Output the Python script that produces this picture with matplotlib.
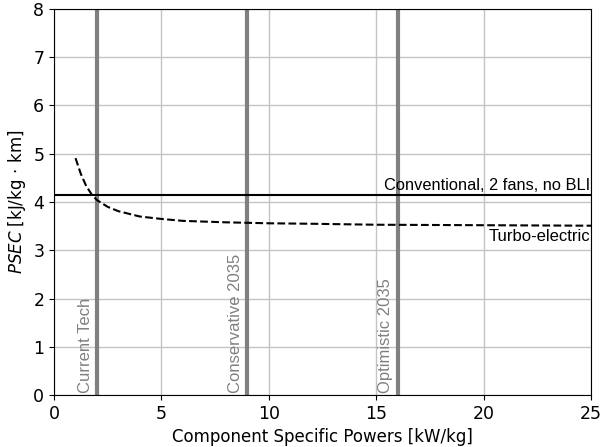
import matplotlib.pyplot as plt

# Turbo-electric PSEC vs component specific power
power = [1.0, 1.25, 1.5, 1.75, 2.0, 2.5, 3.0, 4.0, 5.0, 6.0, 8.0, 10.0, 12.0, 15.0, 20.0, 25.0]
psec_turbo = [4.91, 4.58, 4.33, 4.16, 4.04, 3.90, 3.81, 3.70, 3.65, 3.61, 3.58, 3.56, 3.55, 3.53, 3.52, 3.51]

# Conventional aircraft (constant)
psec_conv = 4.15

# Technology levels
tech_x = [2, 9, 16]
tech_labels = ['Current Tech', 'Conservative 2035', 'Optimistic 2035']

fig = plt.figure(figsize=(6.03, 4.47), dpi=100)
ax = fig.add_axes([0.0896, 0.116, 0.8905, 0.864])

ax.grid(True, color='#c4c4c4', linewidth=1.0, zorder=0)
ax.set_axisbelow(True)

for x, lab in zip(tech_x, tech_labels):
    ax.axvline(x, color='gray', linewidth=3, zorder=2)
    ax.text(x - 0.2, 0.04, lab, rotation=90, ha='right', va='bottom',
            color='gray', fontsize=12, family='Liberation Sans')

ax.axhline(psec_conv, color='black', linewidth=1.5, zorder=3)
ax.plot(power, psec_turbo, color='black', linestyle='--', linewidth=1.5, zorder=3)

ax.text(24.95, psec_conv + 0.04, 'Conventional, 2 fans, no BLI', ha='right', va='bottom',
        fontsize=11.8, family='Liberation Sans')
ax.text(24.95, 3.45, 'Turbo-electric', ha='right', va='top',
        fontsize=12, family='Liberation Sans')

ax.set_xlim(0, 25)
ax.set_ylim(0, 8)
ax.set_xticks([0, 5, 10, 15, 20, 25])
ax.set_yticks(range(0, 9))
ax.tick_params(labelsize=12.5)
ax.set_xlabel('Component Specific Powers [kW/kg]', fontsize=12)
ax.set_ylabel(r'$PSEC$ [kJ/kg$\,\cdot\,$km]', fontsize=12)

fig.savefig('out.png', dpi=100)
